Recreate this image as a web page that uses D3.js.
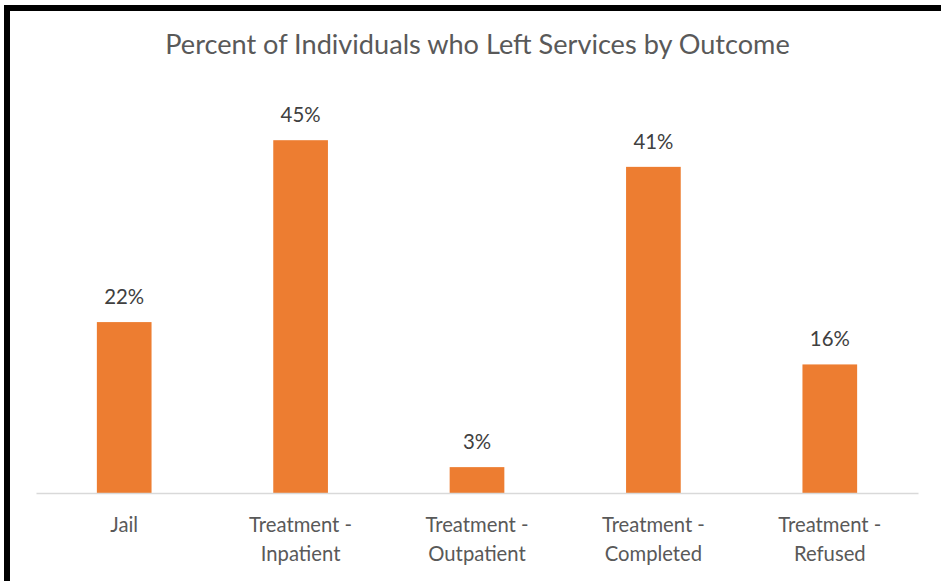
<!DOCTYPE html>
<html>
<head>
<meta charset="utf-8">
<script src="https://cdn.jsdelivr.net/npm/d3@7"></script>
<style>
  html, body { margin: 0; padding: 0; background: #fff; }
  svg { display: block; }
  text { font-family: Lato, "Open Sans", "Liberation Sans", sans-serif; }
</style>
</head>
<body>
<script>
// ---- data ----
const titleText = "Percent of Individuals who Left Services by Outcome";
const categories = [
  ["Jail"],
  ["Treatment -", "Inpatient"],
  ["Treatment -", "Outpatient"],
  ["Treatment -", "Completed"],
  ["Treatment -", "Refused"]
];
const values = [21.8, 45.0, 3.3, 41.6, 16.4];
const valueLabels = ["22%", "45%", "3%", "41%", "16%"];
const yDomain = [0, 50];

// ---- layout ----
const W = 941, H = 581;
const plot = { left: 36, right: 918, top: 101, bottom: 493 };

const svg = d3.select("body").append("svg").attr("width", W).attr("height", H);
svg.append("rect").attr("width", W).attr("height", H).attr("fill", "#fff");

// black frame (top and left)
svg.append("rect").attr("x", 4).attr("y", 5).attr("width", W - 4).attr("height", 6).attr("fill", "#000");
svg.append("rect").attr("x", 4).attr("y", 5).attr("width", 6).attr("height", H - 5).attr("fill", "#000");

const x = d3.scaleBand()
  .domain(d3.range(categories.length))
  .range([plot.left, plot.right])
  .paddingInner(0.69).paddingOuter(0.345);

const y = d3.scaleLinear().domain(yDomain).range([plot.bottom, plot.top]);

// fit helper: scale font-size so text reaches target width
function fit(sel, target) {
  const base = parseFloat(sel.attr("font-size"));
  const w = sel.node().getComputedTextLength();
  sel.attr("font-size", base * target / w);
  return sel;
}

// title
const title = svg.append("text")
  .attr("x", 477.5).attr("y", 53.5)
  .attr("text-anchor", "middle")
  .attr("font-size", 22)
  .attr("fill", "#595959")
  .text(titleText);
fit(title, 625);

// bars
svg.append("g").selectAll("rect")
  .data(values)
  .join("rect")
  .attr("x", (d, i) => x(i))
  .attr("width", x.bandwidth())
  .attr("y", d => y(d))
  .attr("height", d => y(0) - y(d))
  .attr("fill", "#ED7D31");

// baseline axis
const axis = d3.axisBottom(x).tickSize(0).tickFormat("");
const ax = svg.append("g").attr("transform", `translate(0,${y(0)})`).call(axis);
ax.select(".domain").attr("stroke", "#D9D9D9").attr("stroke-width", 1.5);

// data labels
const probe = svg.append("text").attr("font-size", 19).text("22%");
const dlSize = 19 * 40 / probe.node().getComputedTextLength();
probe.remove();
svg.append("g").selectAll("text")
  .data(values)
  .join("text")
  .attr("x", (d, i) => x(i) + x.bandwidth() / 2)
  .attr("y", d => y(d) - 18)
  .attr("text-anchor", "middle")
  .attr("font-size", dlSize)
  .attr("fill", "#404040")
  .text((d, i) => valueLabels[i]);

// category labels
const probe2 = svg.append("text").attr("font-size", 19).text("Treatment -");
const catSize = 19 * 103 / probe2.node().getComputedTextLength();
probe2.remove();
const cg = svg.append("g").selectAll("text")
  .data(categories)
  .join("text")
  .attr("x", (d, i) => x(i) + x.bandwidth() / 2)
  .attr("y", 531.5)
  .attr("text-anchor", "middle")
  .attr("font-size", catSize)
  .attr("fill", "#595959");
cg.selectAll("tspan")
  .data(d => d)
  .join("tspan")
  .attr("x", function() { return this.parentNode.getAttribute("x"); })
  .attr("dy", (d, i) => i === 0 ? 0 : 29)
  .text(d => d);
</script>
</body>
</html>
